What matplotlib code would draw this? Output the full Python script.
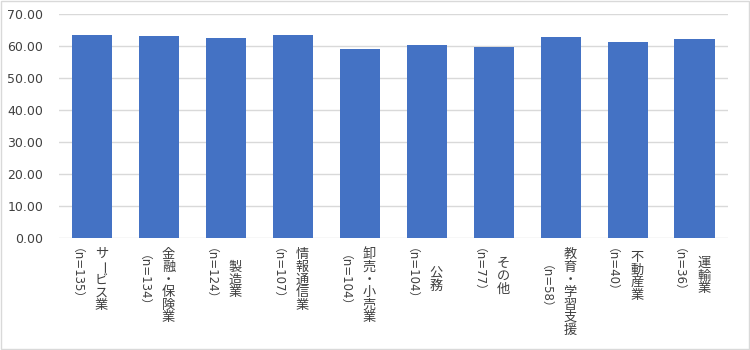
import matplotlib
matplotlib.use('Agg')
import matplotlib.pyplot as plt
from matplotlib.patches import Rectangle
from matplotlib.ticker import FormatStrFormatter

plt.rcParams['font.family'] = ['DejaVu Sans', 'Noto Sans CJK JP']

# данные с картинки
categories = ['サービス業', '金融・保険業', '製造業', '情報通信業', '卸売・小売業',
              '公務', 'その他', '教育・学習支援', '不動産業', '運輸業']
n_counts = [135, 134, 124, 107, 104, 104, 77, 58, 40, 36]
values = [63.5, 63.2, 62.6, 63.5, 59.2, 60.4, 59.8, 62.9, 61.3, 62.3]

text_color = '#404040'
cjk = ['Noto Sans CJK JP', 'DejaVu Sans']
latin = ['DejaVu Sans', 'Noto Sans CJK JP']

fig = plt.figure(figsize=(7.5, 3.5), dpi=100)
ax = fig.add_axes([0.078, 0.319, 0.8927, 0.64])

x = list(range(len(categories)))
ax.bar(x, values, width=0.6, color='#4472C4', zorder=2)
ax.set_xlim(-0.5, len(categories) - 0.5)
ax.set_ylim(0, 70)
ax.set_yticks(range(0, 71, 10))
ax.yaxis.set_major_formatter(FormatStrFormatter('%.2f'))
ax.grid(axis='y', color='#D9D9D9', lw=1, zorder=0)
for s in ax.spines.values():
    s.set_visible(False)
ax.tick_params(axis='y', length=0, pad=11, labelsize=9, labelcolor=text_color)
ax.set_xticks([])

# вертикальные подписи: название столбиком справа, (n=..) повернуто слева
pitch = 12.6
top = -10
n_fs = 8.5
n_x = -13 - 0.36 * n_fs * 100 / 72 - 8  # поправка подобрана на глаз
n_texts = []
for i, n in enumerate(n_counts):
    nt = ax.annotate(f'（n={n}）', xy=(i, 0), xycoords=('data', 'axes fraction'),
                     xytext=(n_x, top), textcoords='offset pixels',
                     rotation=270, rotation_mode='anchor', ha='left', va='baseline',
                     fontsize=n_fs, family=latin, color=text_color)
    n_texts.append(nt)

fig.canvas.draw()

for i, (name, nt) in enumerate(zip(categories, n_texts)):
    n_h = nt.get_window_extent().height
    name_h = len(name) * pitch
    block = max(n_h, name_h)
    nt.xyann = (n_x, top - (block - n_h) / 2)
    y0 = top - (block - name_h) / 2
    for k, ch in enumerate(name):
        rot = 270 if ch == 'ー' else 0
        ax.annotate(ch, xy=(i, 0), xycoords=('data', 'axes fraction'),
                    xytext=(9.5, y0 - pitch * (k + 0.5)), textcoords='offset pixels',
                    rotation=rot, ha='center', va='center', fontsize=9.5,
                    family=cjk, color=text_color)

fig.patches.append(Rectangle((0.001, 0.002), 0.997, 0.995, transform=fig.transFigure,
                             fill=False, ec='#D9D9D9', lw=1))

fig.savefig('out.png', dpi=100)
